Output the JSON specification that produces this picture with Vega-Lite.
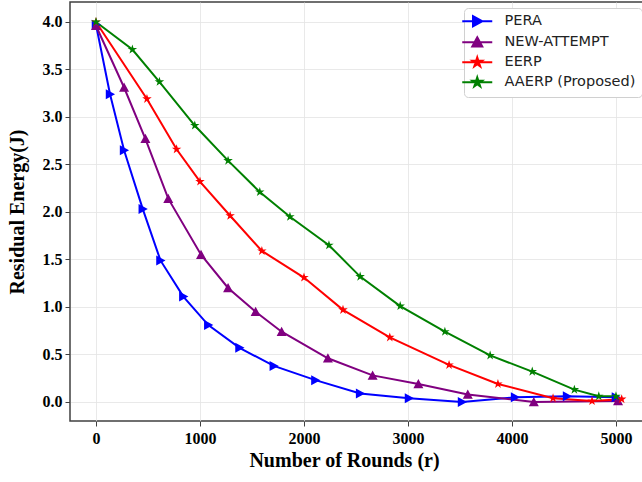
{
  "$schema": "https://vega.github.io/schema/vega-lite/v6.json",
  "width": 573,
  "height": 419,
  "autosize": {"type": "none"},
  "padding": {"left": 70, "top": 2, "right": 0, "bottom": 61},
  "background": "white",
  "config": {
    "view": {"stroke": "#404040", "strokeWidth": 1.5},
    "axis": {
      "domain": false,
      "grid": true,
      "gridColor": "#e3e3e3",
      "gridWidth": 0.8,
      "tickColor": "#404040",
      "tickSize": 5,
      "tickWidth": 1,
      "labelFont": "Liberation Serif",
      "labelFontWeight": "bold",
      "labelFontSize": 16,
      "labelColor": "black",
      "titleFont": "Liberation Serif",
      "titleFontWeight": "bold",
      "titleFontSize": 20,
      "titleColor": "black"
    },
    "legend": {
      "labelFont": "DejaVu Sans",
      "labelFontSize": 14.5,
      "labelColor": "#222222",
      "strokeColor": "#d0d0d0",
      "fillColor": "white",
      "cornerRadius": 4,
      "padding": 6,
      "rowPadding": 2,
      "symbolStrokeWidth": 2,
      "labelOffset": 20
    }
  },
  "data": {
    "values": [
      {"series": "PERA", "r": 0, "e": 3.97},
      {"series": "PERA", "r": 135, "e": 3.24},
      {"series": "PERA", "r": 270, "e": 2.65},
      {"series": "PERA", "r": 450, "e": 2.03},
      {"series": "PERA", "r": 620, "e": 1.49},
      {"series": "PERA", "r": 840, "e": 1.11},
      {"series": "PERA", "r": 1080, "e": 0.81},
      {"series": "PERA", "r": 1380, "e": 0.57},
      {"series": "PERA", "r": 1710, "e": 0.38},
      {"series": "PERA", "r": 2110, "e": 0.23},
      {"series": "PERA", "r": 2540, "e": 0.09},
      {"series": "PERA", "r": 3010, "e": 0.04},
      {"series": "PERA", "r": 3520, "e": 0.0},
      {"series": "PERA", "r": 4030, "e": 0.05},
      {"series": "PERA", "r": 4530, "e": 0.06},
      {"series": "PERA", "r": 5000, "e": 0.05},
      {"series": "NEW-ATTEMPT", "r": 0, "e": 3.96},
      {"series": "NEW-ATTEMPT", "r": 270, "e": 3.31},
      {"series": "NEW-ATTEMPT", "r": 475, "e": 2.77},
      {"series": "NEW-ATTEMPT", "r": 695, "e": 2.14},
      {"series": "NEW-ATTEMPT", "r": 1010, "e": 1.55},
      {"series": "NEW-ATTEMPT", "r": 1270, "e": 1.2},
      {"series": "NEW-ATTEMPT", "r": 1535, "e": 0.95},
      {"series": "NEW-ATTEMPT", "r": 1785, "e": 0.74},
      {"series": "NEW-ATTEMPT", "r": 2230, "e": 0.46},
      {"series": "NEW-ATTEMPT", "r": 2660, "e": 0.28},
      {"series": "NEW-ATTEMPT", "r": 3100, "e": 0.19},
      {"series": "NEW-ATTEMPT", "r": 3575, "e": 0.08},
      {"series": "NEW-ATTEMPT", "r": 4210, "e": 0.0},
      {"series": "NEW-ATTEMPT", "r": 5020, "e": 0.01},
      {"series": "EERP", "r": 0, "e": 4.0},
      {"series": "EERP", "r": 490, "e": 3.19},
      {"series": "EERP", "r": 775, "e": 2.66},
      {"series": "EERP", "r": 1000, "e": 2.32},
      {"series": "EERP", "r": 1290, "e": 1.96},
      {"series": "EERP", "r": 1595, "e": 1.59},
      {"series": "EERP", "r": 2000, "e": 1.31},
      {"series": "EERP", "r": 2375, "e": 0.97},
      {"series": "EERP", "r": 2825, "e": 0.68},
      {"series": "EERP", "r": 3395, "e": 0.39},
      {"series": "EERP", "r": 3865, "e": 0.19},
      {"series": "EERP", "r": 4395, "e": 0.04},
      {"series": "EERP", "r": 4770, "e": 0.01},
      {"series": "EERP", "r": 5055, "e": 0.03},
      {"series": "AAERP (Proposed)", "r": 0, "e": 4.0},
      {"series": "AAERP (Proposed)", "r": 350, "e": 3.71},
      {"series": "AAERP (Proposed)", "r": 610, "e": 3.37},
      {"series": "AAERP (Proposed)", "r": 950, "e": 2.91},
      {"series": "AAERP (Proposed)", "r": 1270, "e": 2.54},
      {"series": "AAERP (Proposed)", "r": 1575, "e": 2.21},
      {"series": "AAERP (Proposed)", "r": 1865, "e": 1.95},
      {"series": "AAERP (Proposed)", "r": 2240, "e": 1.65},
      {"series": "AAERP (Proposed)", "r": 2540, "e": 1.32},
      {"series": "AAERP (Proposed)", "r": 2925, "e": 1.01},
      {"series": "AAERP (Proposed)", "r": 3355, "e": 0.74},
      {"series": "AAERP (Proposed)", "r": 3790, "e": 0.49},
      {"series": "AAERP (Proposed)", "r": 4195, "e": 0.32},
      {"series": "AAERP (Proposed)", "r": 4600, "e": 0.13},
      {"series": "AAERP (Proposed)", "r": 4835, "e": 0.06},
      {"series": "AAERP (Proposed)", "r": 5000, "e": 0.06}
    ]
  },
  "encoding": {
    "x": {
      "field": "r",
      "type": "quantitative",
      "scale": {"domain": [-250, 5260], "nice": false, "zero": false},
      "axis": {"values": [0, 1000, 2000, 3000, 4000, 5000], "format": "d", "title": "Number of Rounds (r)", "labelPadding": 4, "titlePadding": 4, "titleX": 274}
    },
    "y": {
      "field": "e",
      "type": "quantitative",
      "scale": {"domain": [-0.2, 4.21], "nice": false, "zero": false},
      "axis": {"values": [0, 0.5, 1, 1.5, 2, 2.5, 3, 3.5, 4], "format": ".1f", "title": "Residual Energy(J)", "labelPadding": 3, "titlePadding": 15}
    }
  },
  "layer": [
    {
      "mark": {"type": "line", "strokeWidth": 2},
      "encoding": {
        "stroke": {
          "field": "series",
          "type": "nominal",
          "scale": {"domain": ["PERA", "NEW-ATTEMPT", "EERP", "AAERP (Proposed)"], "range": ["#0000ff", "#800080", "#ff0000", "#008000"]},
          "legend": {"orient": "none", "legendX": 394, "legendY": 6, "title": null}
        }
      }
    },
    {
      "mark": {"type": "point", "filled": true, "size": 100, "opacity": 1},
      "encoding": {
        "fill": {
          "field": "series",
          "type": "nominal",
          "scale": {"domain": ["PERA", "NEW-ATTEMPT", "EERP", "AAERP (Proposed)"], "range": ["#0000ff", "#800080", "#ff0000", "#008000"]},
          "legend": {"orient": "none", "legendX": 394, "legendY": 6, "title": null}
        },
        "shape": {
          "field": "series",
          "type": "nominal",
          "scale": {"domain": ["PERA", "NEW-ATTEMPT", "EERP", "AAERP (Proposed)"], "range": [
            "M-3,0L3,0M-0.85,-1L1,0L-0.85,1Z",
            "M-3,0L3,0M0,-1L1,0.85L-1,0.85Z",
            "M-3,0L3,0M0,-1L0.225,-0.309L0.951,-0.309L0.363,0.118L0.588,0.809L0,0.382L-0.588,0.809L-0.363,0.118L-0.951,-0.309L-0.225,-0.309Z",
            "M-3,0L3,0M0,-1L0.225,-0.309L0.951,-0.309L0.363,0.118L0.588,0.809L0,0.382L-0.588,0.809L-0.363,0.118L-0.951,-0.309L-0.225,-0.309Z"
          ]},
          "legend": {"orient": "none", "legendX": 394, "legendY": 6, "title": null}
        }
      }
    }
  ]
}
